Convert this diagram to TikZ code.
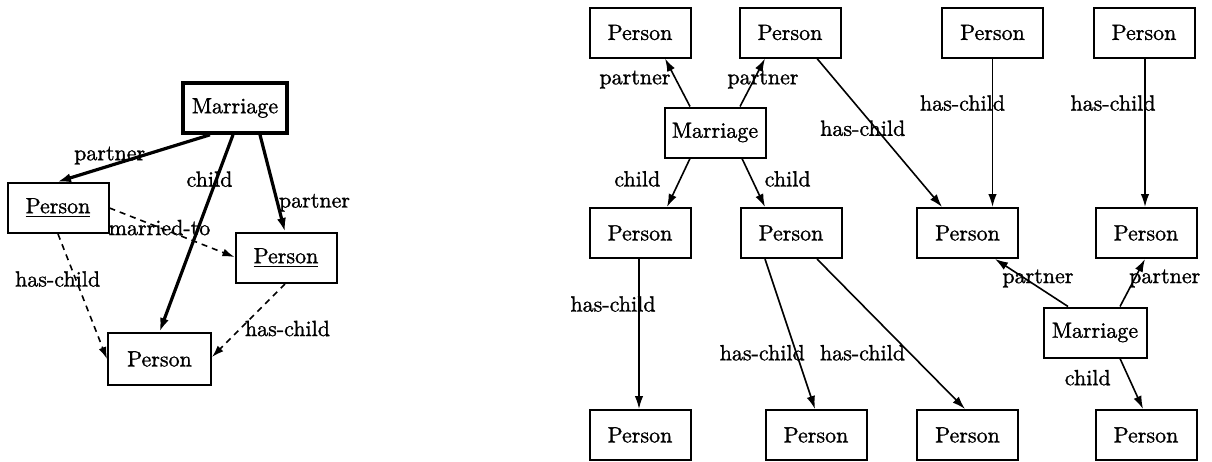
\documentclass[tikz,border=0pt]{standalone}
\usepackage{fontspec}
\usetikzlibrary{arrows.meta}
% a heavier roman for all texts
\setmainfont{Latin Modern Roman}[FakeBold=1.2]
% text is set in the 10pt design and enlarged
\newcommand\T[1]{\scalebox{2.2}{#1}}
\begin{document}
\begin{tikzpicture}[x=1pt,y=-1pt,
  box/.style={draw, line width=2pt, minimum width=101pt, minimum height=50pt, inner sep=0pt},
  heavybox/.style={box, line width=3.6pt, minimum width=104pt},
  rel/.style={line width=1.6pt, -{Latex[length=13pt,width=8.5pt]}},
  heavyrel/.style={line width=3.2pt, -{Latex[length=14pt,width=9pt]}},
  weakrel/.style={line width=1.6pt, dash pattern=on 6pt off 5pt, -{Latex[length=12pt,width=8pt]}},
  lbl/.style={inner sep=0pt}
]
\useasboundingbox (0,0) rectangle (1212,461);

% ---------- left: one marriage with its partners and child ----------
\node[heavybox] (LM)  at (235,108)   {\T{Marriage}};
\node[box]      (LP1) at (58,208)    {\T{\underline{Person}}};
\node[box]      (LP2) at (286,258)   {\T{\underline{Person}}};
\node[box, minimum width=103pt, minimum height=52pt] (LP3) at (159.5,359) {\T{Person}};

\draw[heavyrel] ([xshift=-25pt]LM.south) -- ([xshift=-1pt]LP1.north)
  node[lbl, pos=0.44, xshift=-33pt] {\T{partner}};
\draw[heavyrel] ([xshift=-2pt]LM.south) -- (LP3.north)
  node[lbl, pos=0.225, xshift=-7pt] {\T{child}};
\draw[heavyrel] ([xshift=25pt]LM.south) -- ([xshift=-1pt]LP2.north)
  node[lbl, pos=0.7, xshift=37pt] {\T{partner}};
\draw[weakrel] (LP1.east) -- ([yshift=1pt]LP2.west)
  node[lbl, pos=0.4] {\T{married-to}};
\draw[weakrel] (LP1.south) -- (LP3.west)
  node[lbl, pos=0.36, xshift=-18pt] {\T{has-child}};
\draw[weakrel] ([xshift=-1pt]LP2.south) -- ([yshift=2pt]LP3.east)
  node[lbl, pos=0.61, xshift=47pt] {\T{has-child}};

% ---------- right: two marriages over three generations ----------
\node[box] (P1)  at (640,32.5)    {\T{Person}};
\node[box] (P2)  at (790,32.5)    {\T{Person}};
\node[box] (P5)  at (992.5,32.5)  {\T{Person}};
\node[box] (P6)  at (1144,32.5)   {\T{Person}};
\node[box] (M1)  at (715,132.5)   {\T{Marriage}};
\node[box] (P3)  at (640,233)     {\T{Person}};
\node[box] (P4)  at (791,233)     {\T{Person}};
\node[box] (P7)  at (967.5,233)   {\T{Person}};
\node[box] (P8)  at (1146,233)    {\T{Person}};
\node[box, minimum width=103pt] (M2) at (1095,332.5) {\T{Marriage}};
\node[box] (P9)  at (640,435)     {\T{Person}};
\node[box] (P10) at (816,435)     {\T{Person}};
\node[box] (P11) at (967.5,435)   {\T{Person}};
\node[box] (P12) at (1146,435)    {\T{Person}};

\draw[rel] ([xshift=-25pt]M1.north) -- ([xshift=25pt]P1.south)
  node[lbl, pos=0.56, xshift=-41pt] {\T{partner}};
\draw[rel] ([xshift=25pt]M1.north) -- ([xshift=-25pt]P2.south)
  node[lbl, pos=0.56, xshift=9pt] {\T{partner}};
\draw[rel] ([xshift=-25pt]M1.south) -- ([xshift=27pt]P3.north)
  node[lbl, pos=0.42, xshift=-43pt] {\T{child}};
\draw[rel] ([xshift=27pt]M1.south) -- ([xshift=-26pt]P4.north)
  node[lbl, pos=0.42, xshift=36pt] {\T{child}};

\draw[rel] ([xshift=27pt]P2.south) -- ([xshift=-25.5pt]P7.north)
  node[lbl, pos=0.47, xshift=-13pt] {\T{has-child}};
\draw[rel] (P5.south) -- ([xshift=25pt]P7.north)
  node[lbl, pos=0.3, xshift=-30pt] {\T{has-child}};
\draw[rel] ([xshift=1pt]P6.south) -- ([xshift=-1pt]P8.north)
  node[lbl, pos=0.3, xshift=-32pt] {\T{has-child}};

\draw[rel] ([xshift=-1pt]P3.south) -- ([xshift=-1pt]P9.north)
  node[lbl, pos=0.3, xshift=-26pt] {\T{has-child}};
\draw[rel] ([xshift=-26pt]P4.south) -- ([xshift=-1pt]P10.north)
  node[lbl, pos=0.625, xshift=-34pt] {\T{has-child}};
\draw[rel] ([xshift=26pt]P4.south) -- ([xshift=-2.5pt]P11.north)
  node[lbl, pos=0.625, xshift=-47pt] {\T{has-child}};

\draw[rel] ([xshift=-27pt]M2.north) -- ([xshift=27.5pt]P7.south)
  node[lbl, pos=0.59, xshift=13pt] {\T{partner}};
\draw[rel] ([xshift=25pt]M2.north) -- ([xshift=-1pt]P8.south)
  node[lbl, pos=0.59, xshift=30pt] {\T{partner}};
\draw[rel] ([xshift=25pt]M2.south) -- ([xshift=-3pt]P12.north)
  node[lbl, pos=0.38, xshift=-41pt] {\T{child}};
\end{tikzpicture}
\end{document}
